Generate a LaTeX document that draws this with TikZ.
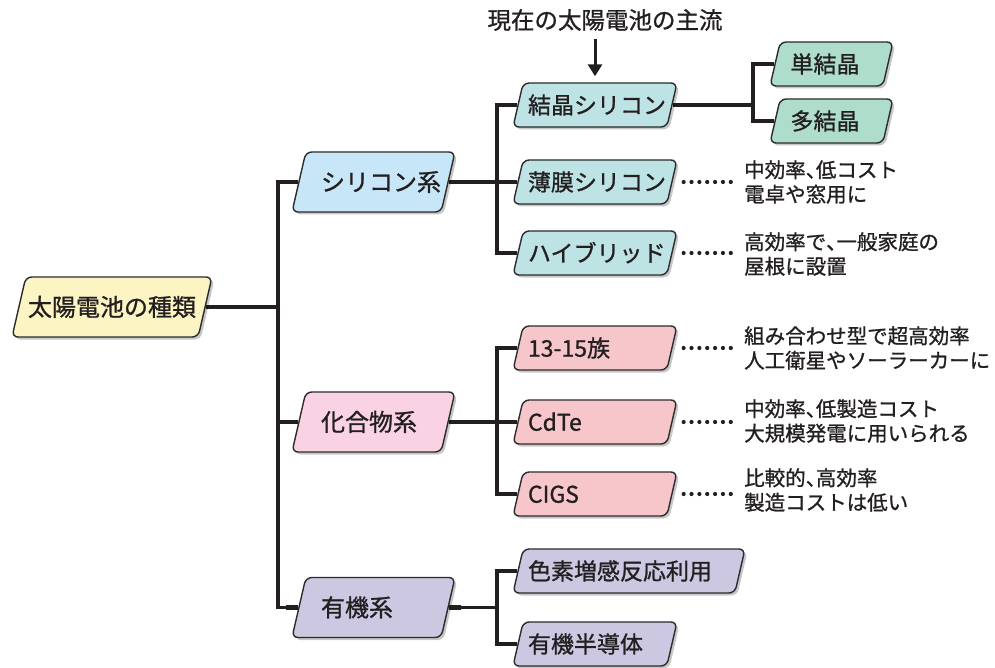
\documentclass[tikz,border=0pt]{standalone}
\usepackage{fontspec}
\setmainfont{Noto Sans CJK JP}[FakeBold=1.0]
\usetikzlibrary{shapes.geometric,shadows,arrows.meta}
\definecolor{lineC}{HTML}{231F20}
\definecolor{edgeC}{HTML}{2B2B2B}
\definecolor{txtC}{HTML}{231F20}
\definecolor{cRoot}{HTML}{FCF5C3}
\definecolor{cSilA}{HTML}{C7E7F8}
\definecolor{cSilB}{HTML}{BEE3E4}
\definecolor{cSilC}{HTML}{AEDDCC}
\definecolor{cCmpA}{HTML}{F9D3E4}
\definecolor{cCmpB}{HTML}{F6C6CB}
\definecolor{cOrg}{HTML}{CCC8E2}
\newcommand{\hc}{\makebox[0.5em][l]{、}}
\pgfdeclarelayer{bg}
\pgfsetlayers{bg,main}
\tikzset{
  box/.style={shape=trapezium, trapezium left angle=77, trapezium right angle=103,
    trapezium stretches body=true, draw=edgeC, line width=1.4pt, rounded corners=6pt,
    drop shadow={shadow xshift=2.5pt, shadow yshift=-2.5pt, fill=black, opacity=0.22},
    inner sep=0pt, align=left, text=txtC},
  tall/.style={text height=39pt, text depth=21pt, font=\fontsize{24}{28}\selectfont},
  short/.style={text height=30.7pt, text depth=13.3pt, font=\fontsize{23}{27}\selectfont},
  lvroot/.style={box, tall, fill=cRoot, minimum width=200pt},
  lvone/.style={box, tall, minimum width=163pt, text width=105pt},
  lvtwo/.style={box, short, minimum width=164pt, text width=134pt},
  lvthree/.style={box, short, minimum width=123pt, text width=82pt},
  conn/.style={draw=lineC, line width=3.2pt},
  stub/.style={draw=lineC, line width=4.8pt},
  dots/.style={draw=lineC, line width=4.2pt, line cap=round, dash pattern=on 0pt off 7.86pt},
  desc/.style={font=\fontsize{20.5}{24.5}\selectfont, align=left, anchor=west, inner sep=0pt, text=txtC},
  headtxt/.style={font=\fontsize{23.5}{27}\selectfont, inner sep=0pt, text=txtC},
  arr/.style={draw=lineC, line width=3pt, -{Triangle[width=14pt,length=12pt]}}
}
\begin{document}
\begin{tikzpicture}[x=1pt,y=-1pt]
\useasboundingbox (0,0) rectangle (995,668);
% nodes
\node[lvroot] (root) at (112,307) {太陽電池の種類};
\node[lvone, fill=cSilA] (sil) at (373.5,182) {シリコン系};
\node[lvone, fill=cCmpA] (cmp) at (373.5,422) {化合物系};
\node[lvone, fill=cOrg] (org) at (373.5,607.5) {有機系};
\node[lvtwo, fill=cSilB] (cs) at (595,105) {結晶シリコン};
\node[lvtwo, fill=cSilB] (th) at (595,182) {薄膜シリコン};
\node[lvtwo, fill=cSilB] (hy) at (595,253) {ハイブリッド};
\node[lvtwo, fill=cCmpB] (gx) at (595,348) {13-15族};
\node[lvtwo, fill=cCmpB] (cdte) at (595,422) {CdTe};
\node[lvtwo, fill=cCmpB] (cigs) at (595,494) {CIGS};
\node[lvtwo, fill=cOrg, minimum width=232pt, text width=202pt] (dye) at (629,571) {色素増感反応利用};
\node[lvtwo, fill=cOrg] (osc) at (595,644) {有機半導体};
\node[lvthree, fill=cSilC] (mono) at (831.5,64) {単結晶};
\node[lvthree, fill=cSilC] (poly) at (831.5,121) {多結晶};
% descriptions
\node[desc] (d1) at (744,182) {中効率\hc 低コスト\\電卓や窓用に};
\node[desc] (d2) at (744,254) {高効率で\hc 一般家庭の\\屋根に設置};
\node[desc] (d3) at (744,348) {組み合わせ型で超高効率\\人工衛星やソーラーカーに};
\node[desc] (d4) at (744,421) {中効率\hc 低製造コスト\\大規模発電に用いられる};
\node[desc] (d5) at (744,490) {比較的\hc 高効率\\製造コストは低い};
% heading
\node[headtxt] (hd) at (605,20) {現在の太陽電池の主流};
\draw[arr, shorten <=8pt, shorten >=6pt] (cs.north |- hd.south) -- (cs.north);
% trunk coordinates
\coordinate (tk) at (278,0);
\coordinate (sx) at (497,0);
\coordinate (mx) at (753,0);
\begin{pgfonlayer}{bg}
\fill[white] (0,0) rectangle (995,668);
\draw[conn] (root.east) -- (root.east -| tk);
\draw[conn] (sil.west) -- (sil.west -| tk) -- (org.west -| tk) -- (org.west);
\draw[conn] (cmp.west) -- (cmp.west -| tk);
\draw[conn] (sil.east) -- (sil.east -| sx);
\draw[conn] (cs.west) -- (cs.west -| sx) -- (hy.west -| sx) -- (hy.west);
\draw[conn] (th.west) -- (th.west -| sx);
\draw[conn] (cmp.east) -- (cmp.east -| sx);
\draw[conn] (gx.west) -- (gx.west -| sx) -- (cigs.west -| sx) -- (cigs.west);
\draw[conn] (cdte.west) -- (cdte.west -| sx);
\draw[conn] (org.east) -- (org.east -| sx);
\draw[conn] (dye.west) -- (dye.west -| sx) -- (osc.west -| sx) -- (osc.west);
\draw[conn] (cs.east) -- (cs.east -| mx);
\draw[conn] (mono.west) -- (mono.west -| mx) -- (poly.west -| mx) -- (poly.west);
\foreach \n in {root,sil,cmp,org,cs}{\draw[stub] (\n.east) -- ++(12,0);}
\foreach \n in {sil,cmp,org,cs,th,hy,gx,cdte,cigs,dye,osc,mono,poly}{\draw[stub] (\n.west) -- ++(-12,0);}
\end{pgfonlayer}
\draw[dots] ([xshift=11pt]th.east) -- ([xshift=-6pt]d1.west);
\draw[dots] ([xshift=11pt]hy.east) -- ([xshift=-6pt]d2.west |- hy.east);
\draw[dots] ([xshift=11pt]gx.east) -- ([xshift=-6pt]d3.west |- gx.east);
\draw[dots] ([xshift=11pt]cdte.east) -- ([xshift=-6pt]d4.west |- cdte.east);
\draw[dots] ([xshift=11pt]cigs.east) -- ([xshift=-6pt]d5.west |- cigs.east);
\end{tikzpicture}
\end{document}
